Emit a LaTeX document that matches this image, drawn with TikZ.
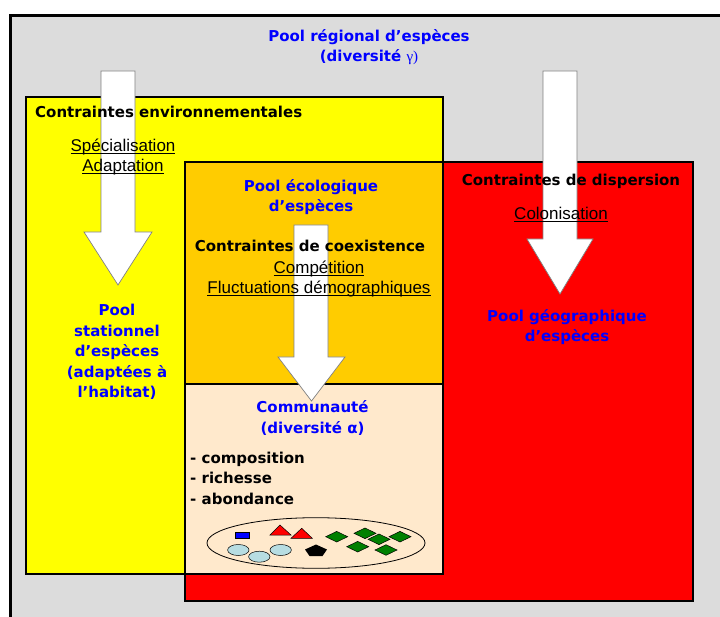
\documentclass[tikz,border=0pt]{standalone}
\usepackage{fontspec}
\setmainfont{Liberation Sans}
\newfontfamily\verdfont{DejaVu Sans}
\newfontfamily\symfont{Liberation Serif}
\usepackage{tikz}
\usetikzlibrary{positioning, shapes}
\definecolor{bggray}{HTML}{DCDCDC}
\definecolor{boxyellow}{HTML}{FFFF00}
\definecolor{boxorange}{HTML}{FFCC00}
\definecolor{boxpeach}{HTML}{FFE9CC}
\definecolor{boxred}{HTML}{FF0000}
\definecolor{leafgreen}{HTML}{008000}
\definecolor{pebble}{HTML}{B7DDE2}
\newcommand{\uln}[1]{\underline{\smash{#1}}}

\begin{document}
\begin{tikzpicture}[
  x=1pt, y=-1pt,
  box/.style={draw=black, line width=2pt}, % the coloured frames
  bigarrow/.style={draw=gray, fill=white, line width=0.7pt},
  pool/.style={text=blue, font=\verdfont\bfseries\fontsize{15}{20.5}\selectfont, align=center, inner sep=0pt, anchor=base},
  constraint/.style={font=\verdfont\bfseries\fontsize{15}{20.5}\selectfont, inner sep=0pt, anchor=base},
  process/.style={font=\fontsize{17}{20.5}\selectfont, align=center, inner sep=0pt, anchor=base},
  species/.style={draw=black, line width=0.5pt}
]
\useasboundingbox (0,0) rectangle (720,617);
\clip (0,0) rectangle (720,617);
% Background and frames
\fill[white] (0,0) rectangle (720,617);
\draw[fill=bggray, line width=3pt] (10,15.5) rectangle (740,640);
\draw[box, fill=boxred] (185,162) rectangle (693,601);
\draw[box, fill=boxyellow] (26,97) rectangle (443,574);
\draw[box, fill=boxorange] (185,162) rectangle (443,384);
\draw[box, fill=boxpeach] (185,384) rectangle (443,574);

% Big white arrows
\draw[bigarrow] (101,71) -- (135,71) -- (135,232) -- (152,232) -- (118,285) -- (84,232) -- (101,232) -- cycle;
\draw[bigarrow] (543,71) -- (577,71) -- (577,239) -- (593,239) -- (560,294) -- (527,239) -- (543,239) -- cycle;
\draw[bigarrow] (294,225) -- (328,225) -- (328,357) -- (345,357) -- (311.5,401) -- (278,357) -- (294,357) -- cycle;

% The community sample
\draw[line width=0.8pt] (316,543) ellipse [x radius=109, y radius=25.3];
\draw[species, fill=blue] (235,532) rectangle (249,538);
\draw[species, fill=boxred] (270,535) -- (280,525) -- (291,535) -- cycle;
\draw[species, fill=boxred] (291,538.3) -- (301.7,528.3) -- (312.3,538.3) -- cycle;
\foreach \px/\py in {238.3/550, 259.3/556.7, 280.7/550}
  \draw[species, fill=pebble] (\px,\py) ellipse [x radius=10.7, y radius=5.5];
\fill (316,544.5) -- (327,549.5) -- (322.5,556) -- (309.5,556) -- (305,549.5) -- cycle;
\foreach \dx/\dy in {336.7/536.7, 365/533.3, 379/539.3, 400/536.7, 357.7/546.7, 386/550}
  \draw[species, fill=leafgreen, shift={(\dx,\dy)}] (-11,0) -- (0,-5.3) -- (11,0) -- (0,5.3) -- cycle;

% Texts (multi-line nodes sit on the baseline of their last line)
\node[pool] (regional) at (369,62) {Pool régional d’espèces\\(diversité {\symfont\mdseries γ)}};
\node[constraint, anchor=base west] (envcons) at (35,118) {Contraintes environnementales};
\node[process] (specadapt) at (123,172) {\uln{Spécialisation}\\\uln{Adaptation}};
\node[pool] (stationnel) at (117,398) {Pool\\stationnel\\d’espèces\\(adaptées à\\l’habitat)};
\node[pool] (ecologique) at (311,212) {Pool écologique\\d’espèces};
\node[constraint] (coexcons) at (310,252) {Contraintes de coexistence};
\node[process] (compfluct) at (319,294) {\uln{Compétition}\\\uln{Fluctuations démographiques}};
\node[constraint] (dispcons) at (571,186) {Contraintes de dispersion};
\node[process] (colonis) at (561,220) {\uln{Colonisation}};
\node[pool] (geographique) at (567,342) {Pool géographique\\d’espèces};
\node[pool] (communaute) at (312.5,433) {Communauté\\(diversité α)};
\node[constraint, align=left, anchor=base west] (attributes) at (190,504) {- composition\\- richesse\\- abondance};
\end{tikzpicture}
\end{document}
